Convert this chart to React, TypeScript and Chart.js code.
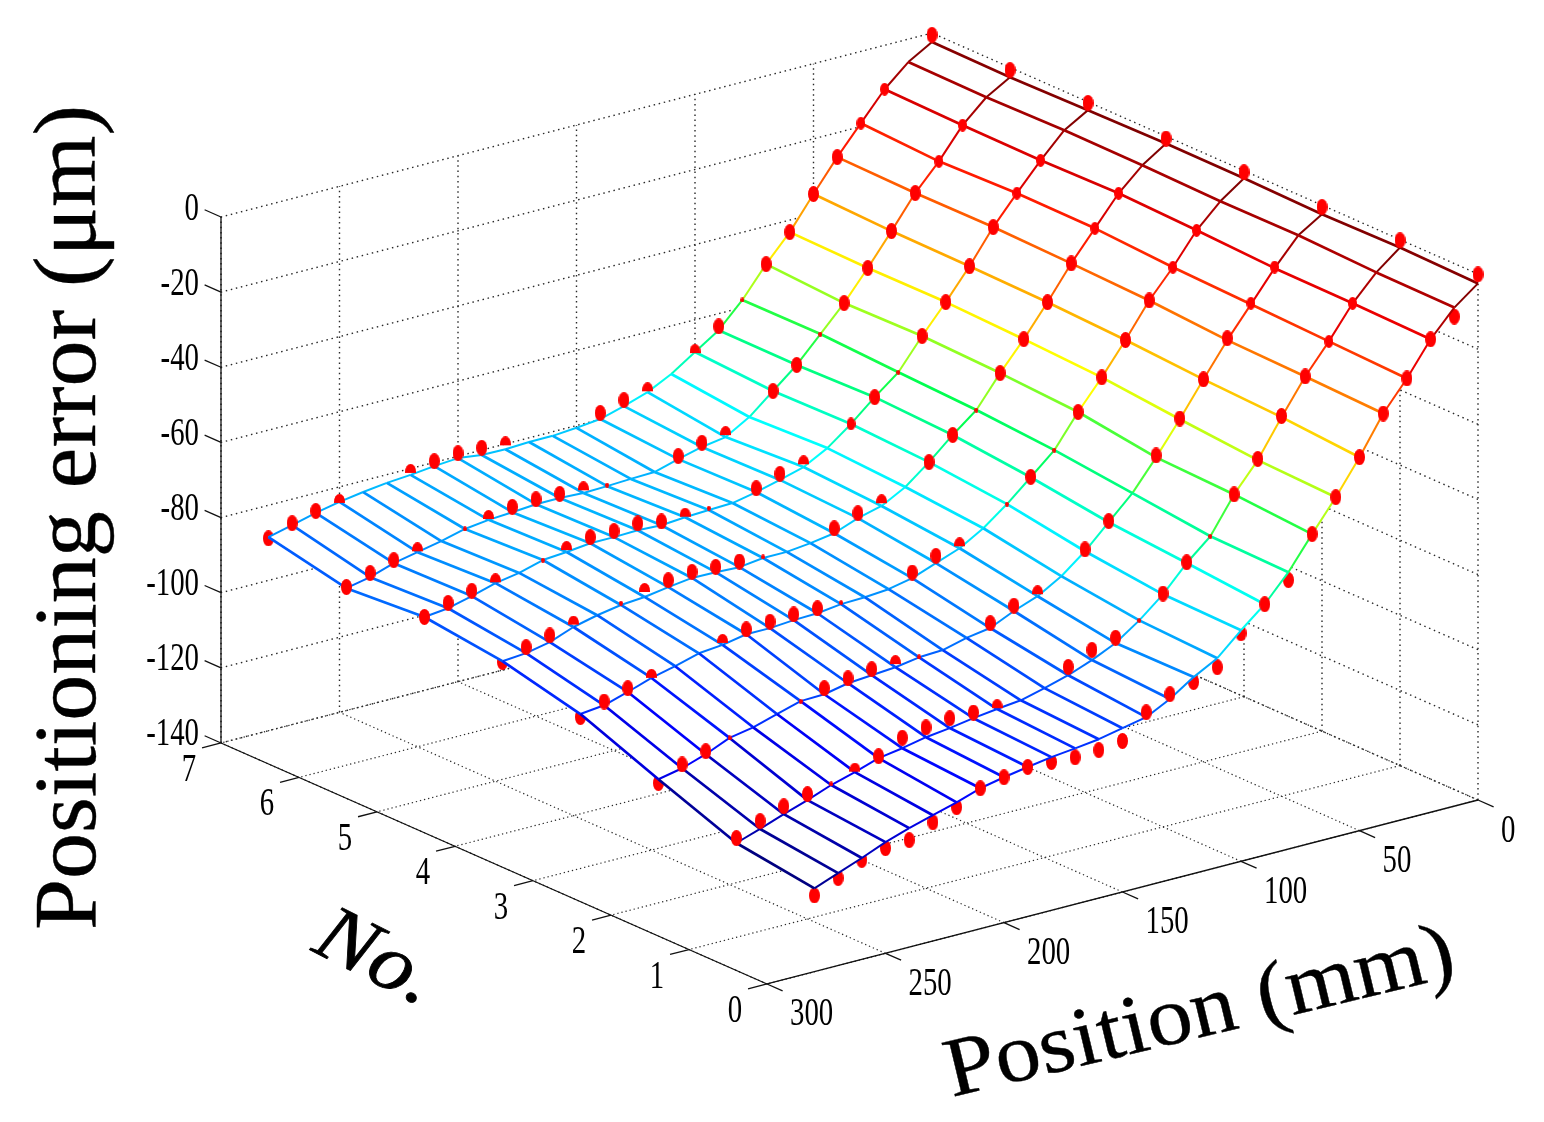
import React, { useEffect, useRef } from "react";
import { Chart, registerables } from "chart.js";

Chart.register(...registerables);

// ---- data -----------------------------------------------------------------
const positions = [0, 10, 20, 30, 40, 50, 60, 70, 80, 90, 100, 110, 120, 130, 140, 150, 160, 170, 180, 190, 200, 210, 220, 230, 240, 250, 260, 270, 280];
const positionTicks = [0, 50, 100, 150, 200, 250, 300];
const noTicks = [0, 1, 2, 3, 4, 5, 6, 7];
const errorTicks = [0, -20, -40, -60, -80, -100, -120, -140];

const errorNo0 = [-2.5, -7.3, -14.1, -22.9, -30.6, -40.6, -49.6, -57.8, -66.3, -73.2, -78.5, -84.3, -87.7, -91.9, -95.1, -96.4, -97.7, -98.5, -99.2, -100.2, -101.3, -102.6, -104.7, -106.5, -108.3, -110.4, -113, -115.4, -117.8];
const errorNo1 = [-2.1, -7.1, -13.7, -22.2, -29.9, -39.1, -48.9, -56.4, -65.9, -71.4, -78.1, -83.4, -87.8, -90.7, -93.1, -94.9, -96.5, -97.2, -98, -99, -99.8, -101.1, -102.1, -104.2, -106, -108.4, -110.5, -112.8, -114.9];
const errorNo2 = [-2.4, -6.4, -13.5, -21.5, -29.4, -38.2, -47.2, -55.7, -63.6, -69.7, -75.8, -80.8, -84.5, -86.8, -89.7, -90.7, -92.3, -92.6, -93.6, -94.1, -94.6, -95.9, -96.1, -97.9, -99.8, -101, -103.7, -105.8, -107.1];
const errorNo3 = [-2, -6.5, -12.6, -20.8, -28, -36.9, -45.2, -52.8, -61.3, -66.9, -72.4, -77.2, -80.9, -83.2, -85.6, -86.9, -87.4, -87.6, -88.4, -88.6, -89.1, -89.1, -90.3, -90.9, -92.7, -94.2, -96.3, -98.2, -98.9];
const errorNo4 = [-1.9, -6.1, -11.9, -19.6, -27.3, -36, -44.2, -51.6, -59.8, -64.8, -70.4, -75.4, -78.8, -80.4, -82.8, -83.8, -84.5, -84.5, -85.3, -85, -84.9, -85.7, -86.7, -87.2, -88.3, -89.8, -92.2, -93.5, -94];
const errorNo5 = [-2.2, -5.9, -12.3, -19.4, -26.8, -35.6, -43.5, -50.9, -58.9, -63.9, -69.4, -74.2, -77.6, -79.4, -81, -82.3, -82.5, -82.8, -83.3, -83, -83.2, -83.2, -83.9, -84.4, -86.2, -87.3, -89.1, -90.7, -91.4];
const errorNo6 = [-2.6, -6.3, -12.1, -20.1, -26.9, -35.4, -43.6, -51.3, -57.9, -64.5, -69.8, -75.1, -78.8, -79.8, -81.4, -83.2, -83.4, -83.7, -83.9, -83.6, -83.6, -84.1, -84.5, -85.3, -86.9, -88.2, -89.5, -91.6, -92.9];
const errorNo7 = [-2.4, -6.1, -11.7, -19.1, -26.5, -34.7, -43.2, -50.1, -58, -64.4, -68.6, -72.8, -76, -78.1, -79.9, -80.6, -81.1, -81.1, -81.4, -81.3, -80.5, -81, -81.7, -82.2, -83, -84, -85.3, -86.9, -88.5];

// measured points: how far each lies above (+) or below (-) the mesh, in um
const residualNo0 = [2.4, -2.4, 0, 0, 0, 0, 0, 0, -2.1, 0, -0.8, -2.4, -1.3, 1.3, 1.3, -3.4, -2.9, -2.4, -1.3, 0, 0, 0, -1.3, -1.9, -3.2, -1.6, -0.5, -1.3, -1.9];
const residualNo1 = [1.9, 0, 0, 0, 0, 0.3, 0.3, 0, 0, 0.2, 0.2, 0, 1.4, 2.7, 2.2, 0, 0, 0.5, 1.5, 2.6, 2.6, 2.8, 0.5, 0.4, 0.3, 1.6, 2.1, 2.1, 1.3];
const residualNo2 = [1.9, 0, 0.3, 0.3, 0.5, 0, 0.2, 0.5, 0, 0.3, 0.5, 0, 0.8, 1.4, 1.3, 0, 0, 0.1, 1.1, 1.6, 1.3, 1.6, 0, 0, 0, 0, 0.8, 1, -1];
const residualNo3 = [1.6, 0, 0, 0, 0, 0, 0, 0, 0, 0.1, 0, 0, 0.8, 1.9, 1.5, 0, 0, 0.4, 1.3, 1.5, 1.7, 1.3, 0.8, 0, 0, 0.3, 1, 1, -0.8];
const residualNo4 = [1.3, 0, 0, 0, 0, 0, 0, 0, 0, 0, 0, 0, 1, 1.3, 1.3, 0, 0, 0.3, 1.5, 1.4, 1.6, 1.8, 1.6, 0.5, 0, 0.9, 1.8, 1.6, -0.2];
const residualNo5 = [1.9, 0, 0, 0, 0, 0, 0, 0, 0, 0, 0, 0, 1, 1.6, 1, 0, 0.5, 0.4, 1, 1.8, 1.6, 1.6, 0.8, 0, 0, 0.5, 1.4, 1.4, 0];
const residualNo6 = [1.9, 0, 0, 0, 0, 0, 0, 0, 0, 0, 0, 0, 0.8, 1.1, 0.8, 0, 0, 0.3, 1, 1.1, 1.3, 1.4, 0.5, 0, 0, 0.5, 0.8, 1.1, 0.3];
const residualNo7 = [1.9, 0, 0, 0, 0, 0, 0, 0, 0, 1, 0, 0, 0.5, 1.6, 1.6, 0, 0, 0, 1.3, 1.9, 1.3, 1.3, 0.8, 0, 0, 0, 0.5, 0.5, -0.3];

// how much of each measured point shows through the surface
// F whole, M smaller, D top only, S a speck, - hidden
const visibleNo0 = "FFFFFFFFFFFFFFFFFFFFFFFFFFFFF";
const visibleNo1 = "F-MMFFFFSFFSFFF--DFFFFFDSFFFF";
const visibleNo2 = "F-MMFFFF-FF-DFF--SDFFFS--SFFF";
const visibleNo3 = "F-MMFFFFSFS-DFF--SFFFFD--DFFF";
const visibleNo4 = "F-MMFFFFSFF-DFF--SFFFFDS-DFFF";
const visibleNo5 = "F-MMFFFFSFM-DFF-SDFFFFDS-DFFF";
const visibleNo6 = "F-MMFFFFSFF-DFF--SDFFFDS-DFFF";
const visibleNo7 = "F-MMFFFFSFD-DFF---DFFFD--DFFF";

const surface = [errorNo0, errorNo1, errorNo2, errorNo3, errorNo4, errorNo5, errorNo6, errorNo7];
const residuals = [residualNo0, residualNo1, residualNo2, residualNo3, residualNo4, residualNo5, residualNo6, residualNo7];
const visibility = [visibleNo0, visibleNo1, visibleNo2, visibleNo3, visibleNo4, visibleNo5, visibleNo6, visibleNo7];

// ---- view ------------------------------------------------------------------
const P_MAX = 300;
const N_MAX = 7;
const Z_MIN = -140;
const Z_MAX = 0;
const project = (p: number, n: number, z: number) => ({
  x: 1478 - 2.37 * p - 78 * n,
  y: 800 + 0.6133 * p - 34.43 * n - 3.757 * (z + 140),
});

const allZ = surface.flat();
const cMin = Math.min(...allZ);
const cMax = Math.max(...allZ);
const colourStops: [number, number, number, number][] = [
  [0, 0, 0, 128],
  [0.125, 0, 0, 255],
  [0.375, 0, 255, 255],
  [0.5, 0, 255, 80],
  [0.625, 255, 255, 0],
  [0.875, 255, 0, 0],
  [1, 128, 0, 0],
];
function jet(z: number) {
  const t = Math.max(0, Math.min(1, (z - cMin) / (cMax - cMin)));
  let k = 0;
  while (k < colourStops.length - 2 && t > colourStops[k + 1][0]) k++;
  const a = colourStops[k];
  const b = colourStops[k + 1];
  const f = (t - a[0]) / (b[0] - a[0]);
  const mix = (j: number) => Math.round(a[j] + (b[j] - a[j]) * f);
  return `rgb(${mix(1)},${mix(2)},${mix(3)})`;
}

function markerImage(w: number, h: number, cut = 1) {
  const c = document.createElement("canvas");
  c.width = w;
  c.height = h;
  const g = c.getContext("2d")!;
  g.beginPath();
  g.rect(0, 0, w, h * cut);
  g.clip();
  g.fillStyle = "#ff0000";
  g.beginPath();
  g.ellipse(w / 2, h / 2, w / 2, h / 2, 0, 0, Math.PI * 2);
  g.fill();
  return c;
}

const FONT = '"Liberation Serif"';

function label(
  ctx: CanvasRenderingContext2D,
  text: string,
  x: number,
  y: number,
  o: { size: number; style?: string; scaleX?: number; rotate?: number; align?: CanvasTextAlign; base?: CanvasTextBaseline; width?: number; heavy?: number },
) {
  ctx.save();
  ctx.translate(x, y);
  ctx.rotate(((o.rotate || 0) * Math.PI) / 180);
  ctx.font = `${o.style || "normal"} ${o.size}px ${FONT}`;
  ctx.fillStyle = "#000";
  ctx.strokeStyle = "#000";
  ctx.textAlign = o.align || "left";
  ctx.textBaseline = o.base || "alphabetic";
  const sx = o.width ? o.width / ctx.measureText(text).width : o.scaleX || 1;
  ctx.scale(sx, 1);
  ctx.fillText(text, 0, 0);
  if (o.heavy) {
    ctx.lineWidth = o.heavy;
    ctx.strokeText(text, 0, 0);
  }
  ctx.restore();
}

const textPlugin = {
  id: "axisText",
  afterDatasetsDraw(chart: any) {
    const ctx = chart.ctx as CanvasRenderingContext2D;
    const tick = { size: 40, scaleX: 0.72, base: "middle" as CanvasTextBaseline };
    errorTicks.forEach((z) => {
      const a = project(P_MAX, N_MAX, z);
      label(ctx, String(z), a.x - 22, a.y - 8, { ...tick, align: "right" });
    });
    noTicks.forEach((n) => {
      const a = project(P_MAX, n, Z_MIN);
      label(ctx, String(n), a.x - 32, a.y + 27.5, { ...tick, align: "center" });
    });
    positionTicks.forEach((p) => {
      const a = project(p, 0, Z_MIN);
      label(ctx, String(p), a.x + 23, a.y + 31, { ...tick, align: "left" });
    });
    label(ctx, "Positioning error (\u03bcm)", 95, 930, { size: 89, rotate: -90, width: 825, heavy: 0.4 });
    label(ctx, "No.", 310, 950, { size: 80, style: "italic", rotate: 27, width: 125, heavy: 0.8 });
    label(ctx, "Position (mm)", 952, 1097, { size: 84, rotate: -13.5, width: 521, heavy: 0.4 });
  },
};

function buildDatasets() {
  const layers: any[] = [];
  const path = (data: { x: number; y: number }[], extra: any) =>
    layers.push({ data, pointRadius: 0, borderWidth: 1, borderColor: "#000", fill: false, tension: 0, clip: false, ...extra });
  const wallDots = { borderColor: "#2a2a2a", borderDash: [1.5, 3.7], borderWidth: 1.4 };
  const floorDots = { borderColor: "#2a2a2a", borderDash: [1.3, 2.9], borderWidth: 1.2 };

  positionTicks.forEach((p) => {
    path([project(p, 0, Z_MIN), project(p, N_MAX, Z_MIN)], floorDots);
    path([project(p, N_MAX, Z_MIN), project(p, N_MAX, Z_MAX)], wallDots);
  });
  noTicks.forEach((n) => {
    path([project(0, n, Z_MIN), project(P_MAX, n, Z_MIN)], floorDots);
    path([project(0, n, Z_MIN), project(0, n, Z_MAX)], wallDots);
  });
  errorTicks.forEach((z) => {
    path([project(0, N_MAX, z), project(P_MAX, N_MAX, z)], wallDots);
    path([project(0, 0, z), project(0, N_MAX, z)], wallDots);
  });

  // axes and tick marks
  const axis = { borderColor: "#111", borderWidth: 1.3 };
  path([project(P_MAX, N_MAX, Z_MIN), project(P_MAX, N_MAX, Z_MAX)], axis);
  path([project(P_MAX, N_MAX, Z_MIN), project(P_MAX, 0, Z_MIN)], axis);
  path([project(P_MAX, 0, Z_MIN), project(0, 0, Z_MIN)], axis);
  errorTicks.forEach((z) => path([project(P_MAX, N_MAX, z), project(P_MAX, N_MAX + 0.21, z)], axis));
  noTicks.forEach((n) => path([project(P_MAX, n, Z_MIN), project(P_MAX + 8, n, Z_MIN)], axis));
  positionTicks.forEach((p) => path([project(p, 0, Z_MIN), project(p, -0.2, Z_MIN)], axis));

  // measured points that sit under the surface's edge, then the opaque surface
  const full = markerImage(11, 16);
  const medium = markerImage(9, 13);
  const dome = markerImage(11, 16, 0.56);
  const speck = markerImage(4, 5);
  const markers = (style: HTMLCanvasElement, test: (s: string, r: number) => boolean) => {
    const data: { x: number; y: number }[] = [];
    surface.forEach((row, n) =>
      row.forEach((z, i) => {
        const r = residuals[n][i];
        if (test(visibility[n][i], r)) data.push(project(positions[i], n, z + r));
      }),
    );
    layers.push({ data, showLine: false, pointStyle: style, pointRadius: 6, clip: false, borderWidth: 0, backgroundColor: "#f00" });
  };
  markers(full, (s, r) => s === "F" && r < 0);

  const last = positions.length - 1;
  const outline = [
    ...positions.map((p, i) => project(p, 0, surface[0][i])),
    ...noTicks.map((n) => project(positions[last], n, surface[n][last])),
    ...positions.map((p, i) => project(p, N_MAX, surface[N_MAX][i])).reverse(),
    ...noTicks.map((n) => project(0, n, surface[n][0])).reverse(),
  ];
  layers.push({ data: outline, pointRadius: 0, borderWidth: 0, fill: "shape", backgroundColor: "#fff", tension: 0, clip: false });

  // mesh, coloured by height
  surface.forEach((row, n) => {
    path(row.map((z, i) => project(positions[i], n, z)), {
      borderWidth: 2,
      segment: { borderColor: (c: any) => jet(row[c.p0DataIndex]) },
    });
  });
  positions.forEach((p, i) => {
    const col = surface.map((row) => row[i]);
    path(col.map((z, n) => project(p, n, z)), {
      borderWidth: 2.7,
      segment: { borderColor: (c: any) => jet(col[c.p0DataIndex]) },
    });
  });

  markers(speck, (s) => s === "S");
  markers(dome, (s) => s === "D");
  markers(medium, (s) => s === "M");
  markers(full, (s, r) => s === "F" && r >= 0);

  return layers.map((d, idx) => ({ ...d, order: layers.length - idx }));
}

export default function App() {
  const ref = useRef<HTMLCanvasElement>(null);
  useEffect(() => {
    const chart = new Chart(ref.current!, {
      type: "line",
      data: { datasets: buildDatasets() },
      plugins: [textPlugin],
      options: {
        animation: false,
        responsive: false,
        devicePixelRatio: 1,
        layout: { padding: 0, autoPadding: false },
        parsing: { xAxisKey: "x", yAxisKey: "y" },
        scales: {
          x: { type: "linear", min: 0, max: 1544, display: false },
          y: { type: "linear", min: 0, max: 1122, reverse: true, display: false },
        },
        plugins: { legend: { display: false }, tooltip: { enabled: false } },
      },
    } as any);
    return () => chart.destroy();
  }, []);
  return (
    <canvas
      ref={ref}
      width={1544}
      height={1122}
      style={{ position: "absolute", left: 0, top: 0, width: 1544, height: 1122, display: "block", background: "#fff" }}
    />
  );
}
